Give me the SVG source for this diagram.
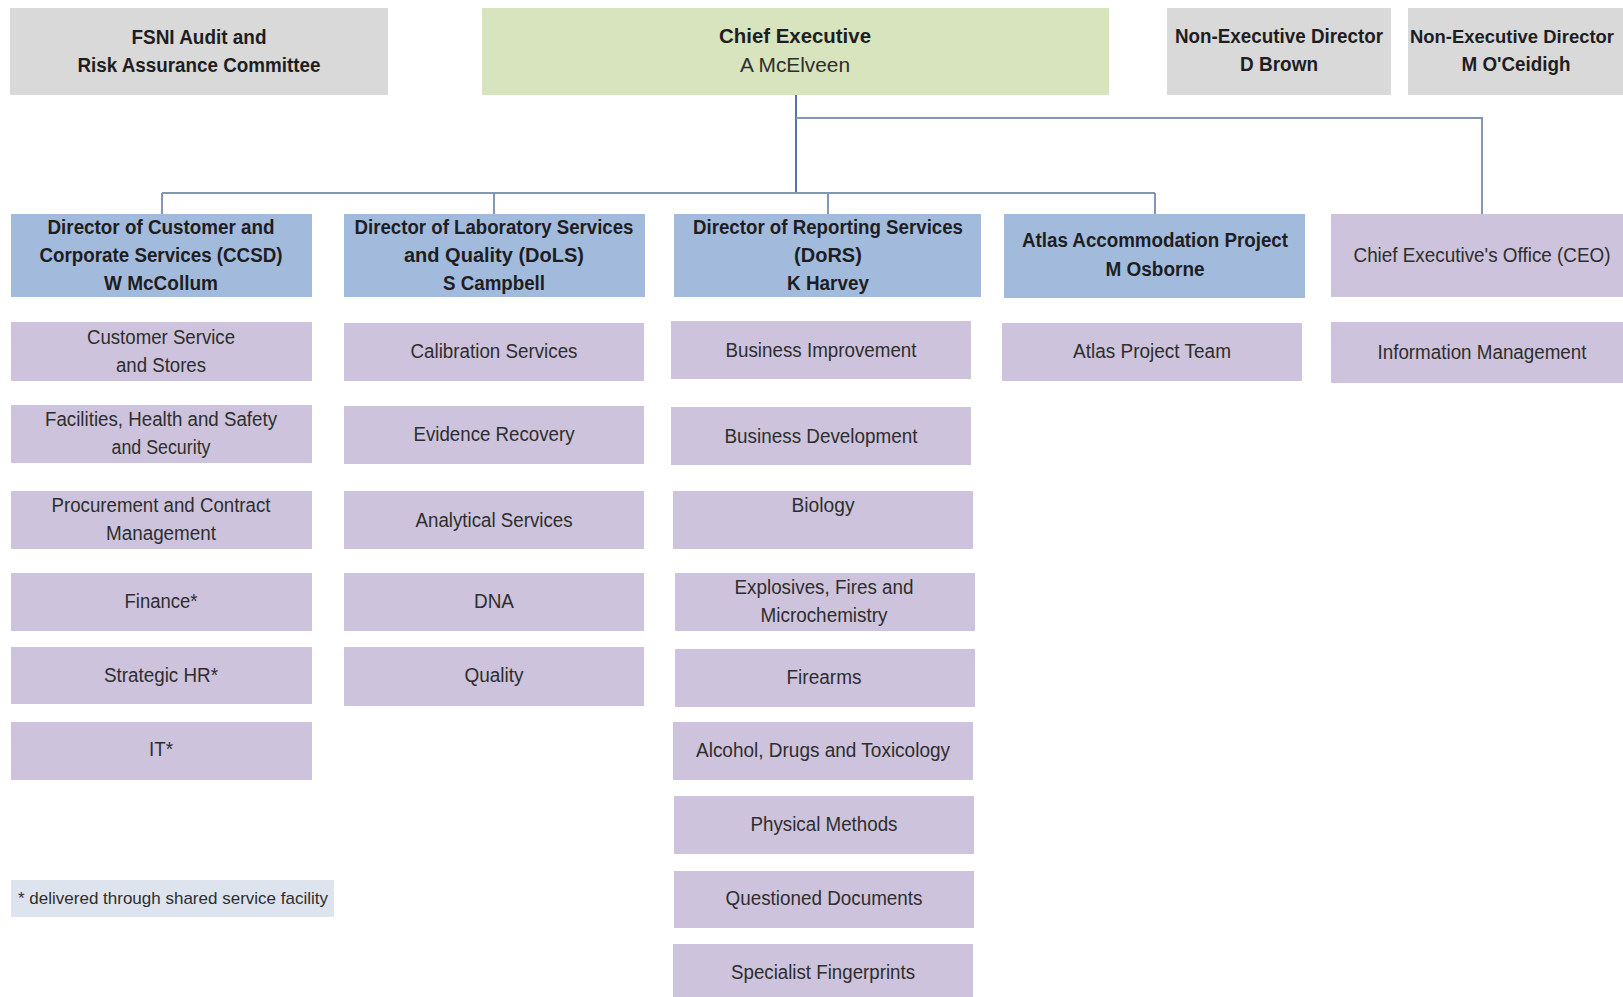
<svg xmlns="http://www.w3.org/2000/svg" width="1623" height="997" viewBox="0 0 1623 997">
<style>
text{font-family:"Liberation Sans",Arial,sans-serif;font-size:20px;text-anchor:middle;fill:#2e2e2e}
.b{font-weight:bold;fill:#1e1e22}
.gray{fill:#d9d9d9}
.green{fill:#d7e4bd}
.blue{fill:#a2bbdd}
.purple{fill:#cdc3dc}
.note{fill:#dde4ee}
.ln{stroke:#8496b2;stroke-width:2;fill:none}
.ln2{stroke:#5574a3;stroke-width:2;fill:none}
</style>
<rect width="1623" height="997" fill="#ffffff"/>
<g id="connectors">
<path class="ln2" d="M796 95V193"/>
<path class="ln" d="M796 118H1482V214"/>
<path class="ln" d="M162 193H1155"/>
<path class="ln" d="M162 193V214M494 193V214M828 193V214M1155 193V214"/>
</g>
<g id="fsni"><rect class="gray" x="10" y="8" width="378" height="87"/>
<text class="b" x="199" y="44" textLength="135" lengthAdjust="spacingAndGlyphs">FSNI Audit and</text>
<text class="b" x="199" y="72" textLength="243" lengthAdjust="spacingAndGlyphs">Risk Assurance Committee</text></g>
<g id="chief"><rect class="green" x="482" y="8" width="627" height="87"/>
<text class="b" x="795" y="43" textLength="152" lengthAdjust="spacingAndGlyphs">Chief Executive</text>
<text x="795" y="72" textLength="110" lengthAdjust="spacingAndGlyphs">A McElveen</text></g>
<g id="ned1"><rect class="gray" x="1167" y="8" width="224" height="87"/>
<text class="b" x="1279" y="43" textLength="208" lengthAdjust="spacingAndGlyphs">Non-Executive Director</text>
<text class="b" x="1279" y="71" textLength="78" lengthAdjust="spacingAndGlyphs">D Brown</text></g>
<g id="ned2"><rect class="gray" x="1408" y="8" width="230" height="87"/>
<text class="b" x="1512" y="43" style="font-size:18.5px" textLength="204" lengthAdjust="spacingAndGlyphs">Non-Executive Director</text>
<text class="b" x="1516" y="71" textLength="109" lengthAdjust="spacingAndGlyphs">M O'Ceidigh</text></g>
<g id="ccsd"><rect class="blue" x="11" y="214" width="301" height="83"/>
<text class="b" x="161" y="234" textLength="227" lengthAdjust="spacingAndGlyphs">Director of Customer and</text>
<text class="b" x="161" y="262" textLength="243" lengthAdjust="spacingAndGlyphs">Corporate Services (CCSD)</text>
<text class="b" x="161" y="290" textLength="114" lengthAdjust="spacingAndGlyphs">W McCollum</text></g>
<g id="dols"><rect class="blue" x="344" y="214" width="301" height="83"/>
<text class="b" x="494" y="234" textLength="279" lengthAdjust="spacingAndGlyphs">Director of Laboratory Services</text>
<text class="b" x="494" y="262">and Quality (DoLS)</text>
<text class="b" x="494" y="290" textLength="102" lengthAdjust="spacingAndGlyphs">S Campbell</text></g>
<g id="dors"><rect class="blue" x="674" y="214" width="307" height="83"/>
<text class="b" x="828" y="234" textLength="270" lengthAdjust="spacingAndGlyphs">Director of Reporting Services</text>
<text class="b" x="828" y="262">(DoRS)</text>
<text class="b" x="828" y="290" textLength="82" lengthAdjust="spacingAndGlyphs">K Harvey</text></g>
<g id="atlas"><rect class="blue" x="1004" y="214" width="301" height="84"/>
<text class="b" x="1155" y="247" textLength="266" lengthAdjust="spacingAndGlyphs">Atlas Accommodation Project</text>
<text class="b" x="1155" y="276" textLength="99" lengthAdjust="spacingAndGlyphs">M Osborne</text></g>
<g id="ceo"><rect class="purple" x="1331" y="214" width="300" height="83"/>
<text x="1482" y="262" textLength="257" lengthAdjust="spacingAndGlyphs">Chief Executive's Office (CEO)</text></g>
<g id="cs"><rect class="purple" x="11" y="322" width="301" height="59"/>
<text x="161" y="344" textLength="148" lengthAdjust="spacingAndGlyphs">Customer Service</text>
<text x="161" y="372" textLength="90" lengthAdjust="spacingAndGlyphs">and Stores</text></g>
<g id="fhs"><rect class="purple" x="11" y="405" width="301" height="58"/>
<text x="161" y="426" textLength="232" lengthAdjust="spacingAndGlyphs">Facilities, Health and Safety</text>
<text x="161" y="454" textLength="99" lengthAdjust="spacingAndGlyphs">and Security</text></g>
<g id="proc"><rect class="purple" x="11" y="491" width="301" height="58"/>
<text x="161" y="512" textLength="219" lengthAdjust="spacingAndGlyphs">Procurement and Contract</text>
<text x="161" y="540" textLength="110" lengthAdjust="spacingAndGlyphs">Management</text></g>
<g id="fin"><rect class="purple" x="11" y="573" width="301" height="58"/>
<text x="161" y="608" textLength="73" lengthAdjust="spacingAndGlyphs">Finance*</text></g>
<g id="hr"><rect class="purple" x="11" y="647" width="301" height="57"/>
<text x="161" y="682" textLength="114" lengthAdjust="spacingAndGlyphs">Strategic HR*</text></g>
<g id="it"><rect class="purple" x="11" y="722" width="301" height="58"/>
<text x="161" y="756" textLength="24" lengthAdjust="spacingAndGlyphs">IT*</text></g>
<g id="cal"><rect class="purple" x="344" y="323" width="300" height="58"/>
<text x="494" y="358" textLength="167" lengthAdjust="spacingAndGlyphs">Calibration Services</text></g>
<g id="evid"><rect class="purple" x="344" y="406" width="300" height="58"/>
<text x="494" y="441" textLength="161" lengthAdjust="spacingAndGlyphs">Evidence Recovery</text></g>
<g id="anal"><rect class="purple" x="344" y="491" width="300" height="58"/>
<text x="494" y="527" textLength="157" lengthAdjust="spacingAndGlyphs">Analytical Services</text></g>
<g id="dna"><rect class="purple" x="344" y="573" width="300" height="58"/>
<text x="494" y="608" textLength="40" lengthAdjust="spacingAndGlyphs">DNA</text></g>
<g id="qual"><rect class="purple" x="344" y="647" width="300" height="59"/>
<text x="494" y="682" textLength="59" lengthAdjust="spacingAndGlyphs">Quality</text></g>
<g id="bi"><rect class="purple" x="671" y="321" width="300" height="58"/>
<text x="821" y="357" textLength="191" lengthAdjust="spacingAndGlyphs">Business Improvement</text></g>
<g id="bd"><rect class="purple" x="671" y="407" width="300" height="58"/>
<text x="821" y="443" textLength="193" lengthAdjust="spacingAndGlyphs">Business Development</text></g>
<g id="bio"><rect class="purple" x="673" y="491" width="300" height="58"/>
<text x="823" y="512" textLength="63" lengthAdjust="spacingAndGlyphs">Biology</text></g>
<g id="exp"><rect class="purple" x="675" y="573" width="300" height="58"/>
<text x="824" y="594" textLength="179" lengthAdjust="spacingAndGlyphs">Explosives, Fires and</text>
<text x="824" y="622" textLength="127" lengthAdjust="spacingAndGlyphs">Microchemistry</text></g>
<g id="fire"><rect class="purple" x="675" y="649" width="300" height="58"/>
<text x="824" y="684" textLength="75" lengthAdjust="spacingAndGlyphs">Firearms</text></g>
<g id="alc"><rect class="purple" x="673" y="722" width="300" height="58"/>
<text x="823" y="757" textLength="254" lengthAdjust="spacingAndGlyphs">Alcohol, Drugs and Toxicology</text></g>
<g id="phys"><rect class="purple" x="674" y="796" width="300" height="58"/>
<text x="824" y="831" textLength="147" lengthAdjust="spacingAndGlyphs">Physical Methods</text></g>
<g id="qd"><rect class="purple" x="674" y="871" width="300" height="57"/>
<text x="824" y="905" textLength="197" lengthAdjust="spacingAndGlyphs">Questioned Documents</text></g>
<g id="sf"><rect class="purple" x="673" y="944" width="300" height="60"/>
<text x="823" y="979" textLength="184" lengthAdjust="spacingAndGlyphs">Specialist Fingerprints</text></g>
<g id="apt"><rect class="purple" x="1002" y="323" width="300" height="58"/>
<text x="1152" y="358" textLength="158" lengthAdjust="spacingAndGlyphs">Atlas Project Team</text></g>
<g id="im"><rect class="purple" x="1331" y="322" width="300" height="61"/>
<text x="1482" y="359" textLength="209" lengthAdjust="spacingAndGlyphs">Information Management</text></g>
<g id="footnote"><rect class="note" x="11" y="880" width="323" height="37"/>
<text x="173" y="904" style="font-size:17px" textLength="310" lengthAdjust="spacingAndGlyphs">* delivered through shared service facility</text></g>
</svg>
